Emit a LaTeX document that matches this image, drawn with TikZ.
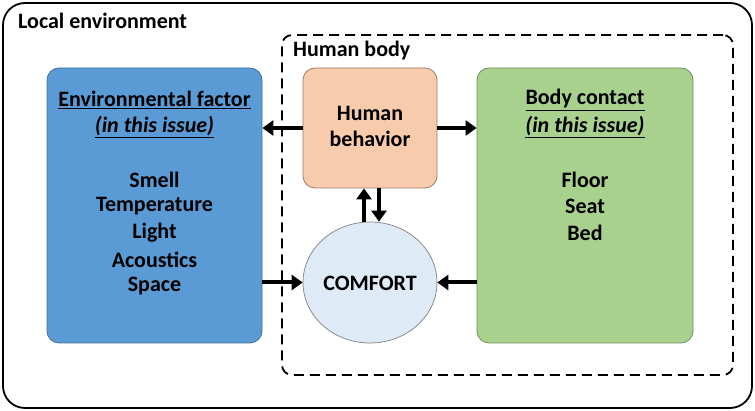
\documentclass[tikz,border=0pt]{standalone}
\usepackage{fontspec}
\setmainfont{Carlito}
\usetikzlibrary{arrows.meta,shapes.geometric}
\definecolor{envblue}{HTML}{5B9BD5}
\definecolor{envborder}{HTML}{41719C}
\definecolor{behorange}{HTML}{F8CBAD}
\definecolor{behborder}{HTML}{9E7A63}
\definecolor{contgreen}{HTML}{A9D18E}
\definecolor{contborder}{HTML}{6E8F5A}
\definecolor{comfblue}{HTML}{DEEBF7}
\tikzset{
  x=1pt, y=-1pt,
  every node/.style={font=\fontsize{22}{26.5}\selectfont\bfseries, align=center, inner sep=0pt},
  blk/.style={draw, rounded corners=12pt, line width=0.8pt},
  conn/.style={line width=4pt, -{Triangle[length=11pt,width=15pt]}},
}
\begin{document}
\begin{tikzpicture}
\useasboundingbox (0,0) rectangle (755,411);
% outer box
\node[draw, line width=1.8pt, rounded corners=22pt, minimum width=749pt, minimum height=405pt] (outer) at (377.5,205.5) {};
\node[anchor=west] (loc) at (18,21) {Local environment};
% dashed human body box
\node[draw, line width=1.8pt, dash pattern=on 10pt off 6pt, rounded corners=10pt, minimum width=451pt, minimum height=340pt] (body) at (507.5,205) {};
\node[anchor=west] (hb) at (293,51) {Human body};
% blocks
\node[blk, fill=envblue, draw=envborder, minimum width=215pt, minimum height=275pt] (env) at (154.5,205.5) {};
\node[blk, fill=behorange, draw=behborder, minimum width=134pt, minimum height=120pt] (beh) at (370,128) {};
\node[blk, fill=contgreen, draw=contborder, minimum width=216pt, minimum height=275pt] (con) at (585,205.5) {};
\node[draw=gray, fill=comfblue, line width=0.7pt, ellipse, minimum width=134pt, minimum height=121pt] (comf) at (370,282.5) {};
% texts
\node (comft) at (370,283) {COMFORT};
\node (envt) at (154.5,100) {\underline{Environmental factor}};
\node (envi) at (154.5,127) {\underline{\itshape (in this issue)}};
\node (env1) at (154.5,180) {Smell};
\node (env2) at (154.5,206.5) {Temperature};
\node (env3) at (154.5,233) {Light};
\node (env4) at (154.5,259.5) {Acoustics};
\node (env5) at (154.5,286) {Space};
\node (beh1) at (370,113) {Human};
\node (beh2) at (370,139) {behavior};
\node (cont) at (585,100) {\underline{Body contact}};
\node (coni) at (585,127) {\underline{\itshape (in this issue)}};
\node (con1) at (585,180) {Floor};
\node (con2) at (585,206.5) {Seat};
\node (con3) at (585,233) {Bed};
% connectors
\draw[conn] (beh.west) -- (beh.west -| env.east);
\draw[conn] (beh.east) -- (beh.east -| con.west);
\draw[conn] (comf.west -| env.east) -- (comf.west);
\draw[conn] (comf.east -| con.west) -- (comf.east);
\draw[conn] ([xshift=-6pt]comf.north) -- ([xshift=-6pt]beh.south);
\draw[conn] ([xshift=9pt]beh.south) -- ([xshift=9pt]comf.north);
\end{tikzpicture}
\end{document}
